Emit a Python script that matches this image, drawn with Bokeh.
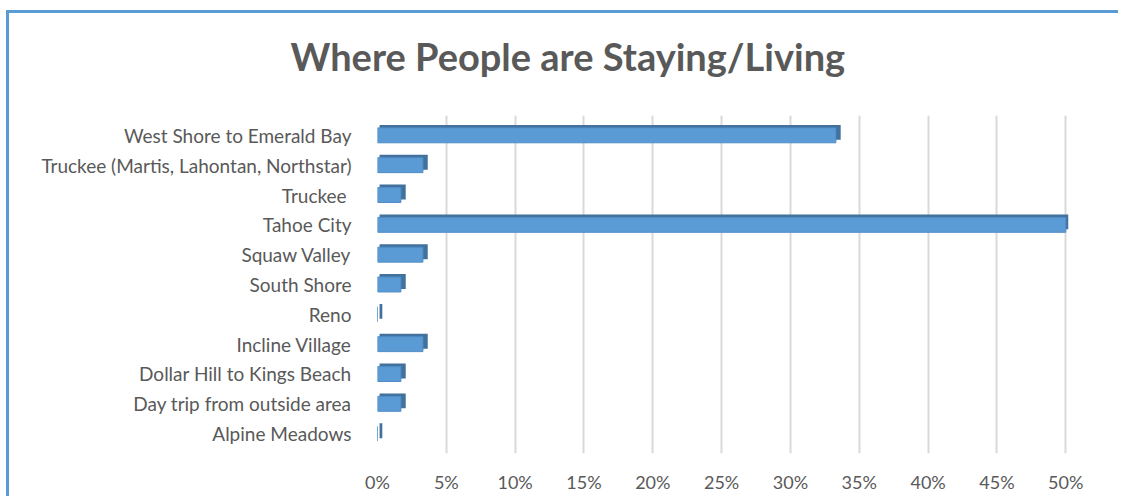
from bokeh.plotting import figure
from bokeh.models import ColumnDataSource, FixedTicker, NumeralTickFormatter, Range1d, FactorRange
from bokeh.transform import dodge
from bokeh.embed import file_html
from bokeh.resources import INLINE

title_text = "Where People are Staying/Living"
categories = [
    "West Shore to Emerald Bay",
    "Truckee (Martis, Lahontan, Northstar)",
    "Truckee ",
    "Tahoe City",
    "Squaw Valley",
    "South Shore",
    "Reno",
    "Incline Village",
    "Dollar Hill to Kings Beach",
    "Day trip from outside area",
    "Alpine Meadows",
]
shares = [0.333, 0.033, 0.017, 0.50, 0.033, 0.017, 0.0, 0.033, 0.017, 0.017, 0.0]
tick_values = [0, 0.05, 0.10, 0.15, 0.20, 0.25, 0.30, 0.35, 0.40, 0.45, 0.50]

TEXT = "#595959"
BLUE = "#5B9BD5"
DARK = "#41719C"

src = ColumnDataSource(dict(cat=categories, val=shares, zero=[0.0] * len(shares)))

p = figure(
    width=1112, height=486,
    y_range=FactorRange(factors=list(reversed(categories)), range_padding=0.03),
    x_range=Range1d(0, 0.502),
    output_backend="svg", toolbar_location=None,
    title=title_text,
    min_border_left=368, min_border_right=53, min_border_top=101, min_border_bottom=46,
)
p.styles = {"border-top": "3px solid #5B9BD5", "border-left": "3px solid #5B9BD5",
            "margin-left": "6px", "margin-top": "10px"}

p.title.align = "left"
p.title.offset = -87
p.title.text_font = "Lato"
p.title.text_font_size = "38px"
p.title.text_font_style = "bold"
p.title.text_color = TEXT
p.title.standoff = 34
p.title.padding = (0, 0, 0, 20)

# 3D-like back face
p.hbar(y=dodge("cat", 0.1, range=p.y_range), left=dodge("zero", 0.0015), right=dodge("val", 0.0035),
       height=0.5, source=src, fill_color=DARK, line_color=None)
# front face
p.hbar(y="cat", left="zero", right="val", height=0.5, source=src,
       fill_color=BLUE, line_color="#4F8CC6", line_width=1)

p.outline_line_color = None
p.background_fill_color = "white"
p.border_fill_color = "white"

p.xaxis.ticker = FixedTicker(ticks=tick_values)
p.xaxis.formatter = NumeralTickFormatter(format="0%")
p.xaxis.axis_line_color = None
p.xaxis.major_tick_line_color = None
p.xaxis.minor_tick_line_color = None
p.xaxis.major_label_text_font = "Lato"
p.xaxis.major_label_text_font_size = "18px"
p.xaxis.major_label_text_color = TEXT
p.xaxis.major_label_standoff = 11

p.yaxis.axis_line_color = None
p.yaxis.major_tick_line_color = None
p.yaxis.major_label_text_font = "Lato"
p.yaxis.major_label_text_font_size = "19px"
p.yaxis.major_label_text_color = TEXT
p.yaxis.major_label_standoff = 20

p.xgrid.ticker = FixedTicker(ticks=tick_values)
p.xgrid.grid_line_color = "#D9D9D9"
p.xgrid.grid_line_width = 2
p.ygrid.grid_line_color = None

open("out.html", "w").write(file_html(p, INLINE))
